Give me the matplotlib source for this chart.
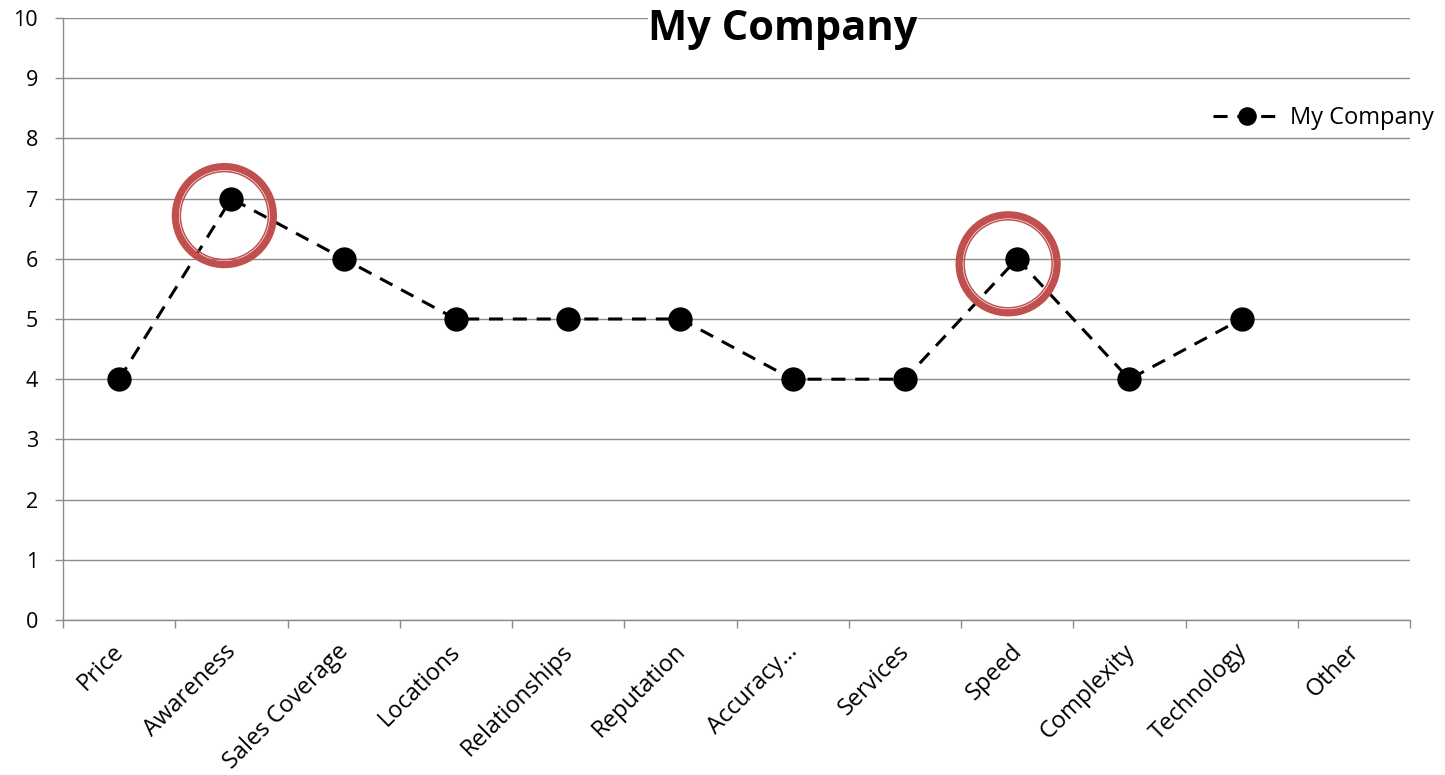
import numpy as np
import matplotlib
matplotlib.use("Agg")
import matplotlib.pyplot as plt
from matplotlib.patches import Circle
from matplotlib.transforms import ScaledTranslation

plt.rcParams['font.family'] = ['Open Sans', 'DejaVu Sans']

categories = ["Price", "Awareness", "Sales Coverage", "Locations", "Relationships",
              "Reputation", "Accuracy…", "Services", "Speed", "Complexity",
              "Technology", "Other"]
values = [4, 7, 6, 5, 5, 5, 4, 4, 6, 4, 5, np.nan]
yticks = list(range(0, 11))
series_name = "My Company"
title = "My Company"
highlighted = ["Awareness", "Speed"]

W, H = 1445, 775
fig = plt.figure(figsize=(W / 100, H / 100), dpi=100)
ax = fig.add_axes([63 / W, 1 - 620 / H, (1410 - 63) / W, (620 - 18) / H])

grid_c = "#8c8c8c"
x = np.arange(len(categories)) + 0.5
line, = ax.plot(x, values, color="black", lw=2.2, linestyle=(0, (4.6, 3.2)),
                marker="o", markersize=16.5, markerfacecolor="black",
                markeredgecolor="black", label=series_name, zorder=3)

ax.set_xlim(0, len(categories))
ax.set_ylim(0, 10)
ax.set_yticks(yticks)
ax.set_yticklabels([str(v) for v in yticks], fontsize=15.5)
ax.set_xticks(np.arange(len(categories) + 1))
ax.set_xticklabels([])
ax.set_xticks(x, minor=True)
ax.set_xticklabels(categories, minor=True, rotation=45, ha="right",
                   rotation_mode="anchor", fontsize=17)
ax.tick_params(axis="x", which="minor", length=0, pad=14)
ax.tick_params(axis="x", which="major", length=6, color=grid_c, width=1)
ax.tick_params(axis="y", length=6, color=grid_c, width=1, pad=12)
shift = ScaledTranslation(-7 / 100, 0, fig.dpi_scale_trans)
for lbl in ax.get_xticklabels(minor=True):
    lbl.set_transform(lbl.get_transform() + shift)
ax.grid(axis="y", color=grid_c, lw=1)
ax.set_axisbelow(True)
for s in ["top", "right"]:
    ax.spines[s].set_visible(False)
for s in ["left", "bottom"]:
    ax.spines[s].set_color(grid_c)
    ax.spines[s].set_linewidth(1)

# highlight rings around selected points (offsets in pixels)
ring_offsets = {"Awareness": (-7, -17), "Speed": (-9, -5)}
for name in highlighted:
    i = categories.index(name)
    dx, dy = ring_offsets[name]
    tr = fig.dpi_scale_trans + ScaledTranslation(x[i], values[i], ax.transData)
    ax.add_patch(Circle((dx / 100, dy / 100), 49 / 100, transform=tr, fill=False,
                        edgecolor="#C0504D", lw=5.2, zorder=4, clip_on=False))
    ax.add_patch(Circle((dx / 100, dy / 100), 44 / 100, transform=tr, fill=False,
                        edgecolor="#C0504D", lw=1.1, zorder=4, clip_on=False))

fig.text(783 / W, 1 - 29 / H, title, ha="center", va="center", fontsize=30,
         fontweight="bold", bbox=dict(facecolor="white", edgecolor="none", pad=0))

fig.legend(handles=[line], loc="center left", bbox_to_anchor=(1213 / W, 1 - 118 / H),
           frameon=False, fontsize=17, handlelength=2.9, handletextpad=0.35,
           markerscale=0.75, borderpad=0, borderaxespad=0)

fig.savefig("out.png", dpi=100)
